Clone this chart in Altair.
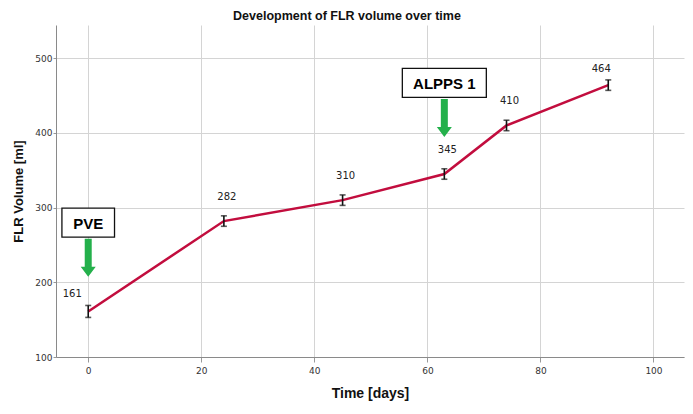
import altair as alt
import pandas as pd

# ---- data ----
days = [0, 24, 45, 63, 74, 92]
volume = [161, 282, 310, 345, 410, 464]
err = [8, 7, 7, 7, 7, 7]

x_ticks = [0, 20, 40, 60, 80, 100]
y_ticks = [100, 200, 300, 400, 500]

annot_text = ["PVE", "ALPPS 1"]
annot_day = [0, 63]
annot_box_y = [280, 467]
annot_arrow_y = [233, 420]

df = pd.DataFrame({"day": days, "vol": volume, "err": err})
df["lo"] = df["vol"] - df["err"]
df["hi"] = df["vol"] + df["err"]
df["label"] = df["vol"].astype(str)
df["idx"] = range(len(df))

ann = pd.DataFrame({"text": annot_text, "day": annot_day,
                    "box_y": annot_box_y, "arrow_y": annot_arrow_y})

xs = alt.Scale(domain=[-5.7, 105.4], nice=False, zero=False)
ys = alt.Scale(domain=[100, 544.5], nice=False, zero=False)

X = alt.X("day:Q", scale=xs,
          axis=alt.Axis(values=x_ticks, title="Time [days]", titleY=29,
                        titleFontSize=14, titleFontWeight="bold",
                        titleFont="Liberation Sans", titleColor="#111",
                        labelFont="DejaVu Sans", labelFontSize=9, labelColor="#333",
                        labelPadding=4, tickSize=5, tickColor="#999",
                        domainColor="#8a8a8a", gridColor="#d4d4d4"))
Y = alt.Y("vol:Q", scale=ys,
          axis=alt.Axis(values=y_ticks, title="FLR Volume [ml]",
                        titleX=-38, titleY=166, titleAngle=-90, titleBaseline="middle",
                        titleAlign="center",
                        titleFontSize=13, titleFontWeight="bold",
                        titleFont="Liberation Sans", titleColor="#111",
                        labelFont="DejaVu Sans", labelFontSize=9, labelColor="#333",
                        labelPadding=1, tickSize=3, tickColor="#999",
                        domainColor="#8a8a8a", gridColor="#d4d4d4"))

base = alt.Chart(df)

line = base.mark_line(color="#c20d3e", strokeWidth=2.5).encode(x=X, y=Y)

bars = base.mark_rule(color="#111", strokeWidth=1.6).encode(
    x="day:Q", y="lo:Q", y2="hi:Q")
caps_lo = base.mark_tick(color="#111", size=6, thickness=1.6, orient="horizontal").encode(
    x="day:Q", y="lo:Q")
caps_hi = base.mark_tick(color="#111", size=6, thickness=1.6, orient="horizontal").encode(
    x="day:Q", y="hi:Q")

lab_style = dict(font="DejaVu Sans", fontSize=10, color="#222", align="center")
labels_mid = base.transform_filter("datum.idx > 0 && datum.idx < 5").mark_text(
    dy=-24, dx=3, **lab_style).encode(x="day:Q", y="vol:Q", text="label:N")
label_first = base.transform_filter("datum.idx == 0").mark_text(
    dy=-17, dx=-16, **lab_style).encode(x="day:Q", y="vol:Q", text="label:N")
label_last = base.transform_filter("datum.idx == 5").mark_text(
    dy=-16, dx=-7, **lab_style).encode(x="day:Q", y="vol:Q", text="label:N")

arrow_path = ("M-0.184,-1L0.184,-1L0.184,0.474L0.395,0.474L0,1"
              "L-0.395,0.474L-0.184,0.474Z")
arrows = alt.Chart(ann).mark_point(
    shape=arrow_path, size=1444, filled=True, fill="#24b04b", stroke=None,
    opacity=1).encode(x="day:Q", y="arrow_y:Q")

pve_box = alt.Chart(ann).transform_filter("datum.text == 'PVE'").mark_point(
    shape="M-1,-0.551L1,-0.551L1,0.551L-1,0.551Z", size=52.6 ** 2,
    filled=True, fill="white", stroke="#111", strokeWidth=1.3, opacity=1
).encode(x="day:Q", y="box_y:Q")
alpps_box = alt.Chart(ann).transform_filter("datum.text != 'PVE'").mark_point(
    shape="M-1,-0.345L1,-0.345L1,0.345L-1,0.345Z", size=84 ** 2,
    filled=True, fill="white", stroke="#111", strokeWidth=1.3, opacity=1
).encode(x="day:Q", y="box_y:Q")
box_text = alt.Chart(ann).mark_text(
    font="Liberation Sans", fontSize=15, fontWeight="bold", color="#000",
    align="center", baseline="middle", dy=1).encode(
    x="day:Q", y="box_y:Q", text="text:N")

chart = alt.layer(
    line, bars, caps_lo, caps_hi, labels_mid, label_first, label_last,
    arrows, pve_box, alpps_box, box_text
).properties(
    width=628, height=332,
    autosize=alt.AutoSizeParams(type="none"),
    padding={"left": 56, "top": 25, "right": 9, "bottom": 57},
    title=alt.TitleParams("Development of FLR volume over time",
                          font="Liberation Sans", fontSize=12.5, fontWeight="bold",
                          color="#111", anchor="middle", dx=-23, dy=14, offset=4,
                          baseline="bottom"),
    background="white",
).configure_view(stroke=None)

chart.save("out.html", embed_options={"renderer": "svg", "actions": False})
